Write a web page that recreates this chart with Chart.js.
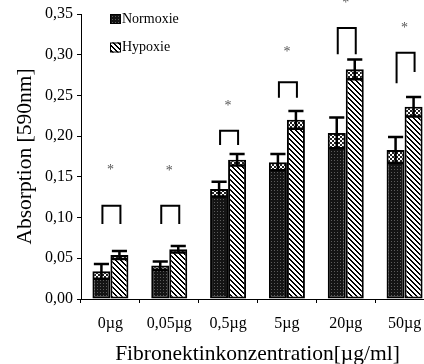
<!DOCTYPE html>
<html>
<head>
<meta charset="utf-8">
<script src="https://cdn.jsdelivr.net/npm/chart.js@4"></script>
<style>
  html, body { margin: 0; padding: 0; background: #fff; overflow: hidden; }
  canvas { display: block; }
</style>
</head>
<body>
<canvas id="chart" width="440" height="364"></canvas>
<script>
const categories = ['0µg', '0,05µg', '0,5µg', '5µg', '20µg', '50µg'];
const normoxie = [0.034, 0.041, 0.135, 0.168, 0.204, 0.183];
const normoxieErr = [0.009, 0.005, 0.009, 0.010, 0.019, 0.016];
const hypoxie = [0.054, 0.061, 0.171, 0.220, 0.282, 0.236];
const hypoxieErr = [0.005, 0.004, 0.007, 0.011, 0.012, 0.012];

// significance brackets: top line, left leg end, right leg end, star height
const bracketTop = [0.1146, 0.1146, 0.2067, 0.2661, 0.3328, 0.3025];
const bracketLeft = [0.0921, 0.0921, 0.1891, 0.2472, 0.3005, 0.2649];
const bracketRight = [0.0921, 0.0921, 0.1891, 0.2472, 0.3005, 0.2788];
const starY = [0.162, 0.160, 0.240, 0.307, 0.367, 0.336];

const yTicks = [0, 0.05, 0.10, 0.15, 0.20, 0.25, 0.30, 0.35];

const serif = '"Liberation Serif", "Times New Roman", serif';

function makePattern(size, draw) {
    const c = document.createElement('canvas');
    c.width = size;
    c.height = size;
    draw(c.getContext('2d'));
    return c.getContext('2d').createPattern(c, 'repeat');
}

// dark fill with a fine grid of lighter dots
const dotFill = makePattern(3, g => {
    g.fillStyle = '#141414';
    g.fillRect(0, 0, 3, 3);
    g.fillStyle = '#5c5c5c';
    g.fillRect(1, 1, 1, 1);
});

// "\" hatching
const hatchFill = makePattern(5, g => {
    g.fillStyle = '#fff';
    g.fillRect(0, 0, 5, 5);
    g.fillStyle = '#000';
    for (let i = 0; i < 5; i++) {
        g.fillRect(i, i, 1, 1);
        g.fillRect((i + 1) % 5, i, 1, 1);
    }
});

// lighter checker where the lower half of the error bar sits inside the bar
const checkFill = makePattern(4, g => {
    g.fillStyle = '#fff';
    g.fillRect(0, 0, 4, 4);
    g.fillStyle = '#222';
    g.fillRect(0, 0, 2, 2);
    g.fillRect(2, 2, 2, 2);
});

const errorBars = {
    id: 'errorBars',
    afterDatasetsDraw(chart) {
        const ctx = chart.ctx;
        const y = chart.scales.y;
        [normoxieErr, hypoxieErr].forEach((errs, di) => {
            const vals = chart.data.datasets[di].data;
            chart.getDatasetMeta(di).data.forEach((bar, i) => {
                const top = y.getPixelForValue(vals[i] + errs[i]);
                const low = y.getPixelForValue(vals[i] - errs[i]);
                const half = bar.width * 0.42;
                ctx.save();
                ctx.fillStyle = checkFill;
                ctx.fillRect(bar.x - bar.width / 2 + 2, bar.y + 2, bar.width - 4, low - bar.y - 2);
                ctx.strokeStyle = '#000';
                ctx.lineWidth = 2.5;
                ctx.beginPath();
                ctx.moveTo(bar.x, top);
                ctx.lineTo(bar.x, low);
                ctx.moveTo(bar.x - half, top);
                ctx.lineTo(bar.x + half, top);
                ctx.moveTo(bar.x - half, low);
                ctx.lineTo(bar.x + half, low);
                ctx.stroke();
                ctx.restore();
            });
        });
    }
};

const significance = {
    id: 'significance',
    afterDraw(chart) {
        const ctx = chart.ctx;
        const x = chart.scales.x;
        const y = chart.scales.y;
        const nBars = chart.getDatasetMeta(0).data;
        const hBars = chart.getDatasetMeta(1).data;
        ctx.save();
        categories.forEach((c, i) => {
            const x1 = nBars[i].x + 1;
            const x2 = hBars[i].x + 1;
            ctx.strokeStyle = '#000';
            ctx.lineWidth = 2;
            ctx.beginPath();
            ctx.moveTo(x1, y.getPixelForValue(bracketLeft[i]));
            ctx.lineTo(x1, y.getPixelForValue(bracketTop[i]));
            ctx.lineTo(x2, y.getPixelForValue(bracketTop[i]));
            ctx.lineTo(x2, y.getPixelForValue(bracketRight[i]));
            ctx.stroke();

            ctx.fillStyle = '#555';
            ctx.font = '14px ' + serif;
            ctx.textAlign = 'center';
            ctx.textBaseline = 'middle';
            ctx.fillText('*', x.getPixelForValue(i), y.getPixelForValue(starY[i]) + 3);
        });
        ctx.restore();
    }
};

const legendBoxes = {
    id: 'legendBoxes',
    afterDraw(chart) {
        const ctx = chart.ctx;
        const area = chart.chartArea;
        const left = area.left + 29;
        ctx.save();
        ctx.font = '14px ' + serif;
        ctx.textBaseline = 'middle';
        ctx.textAlign = 'left';
        chart.data.datasets.forEach((ds, i) => {
            const top = area.top + i * 28.5;
            ctx.fillStyle = ds.backgroundColor;
            ctx.fillRect(left, top, 11, 10);
            ctx.strokeStyle = '#000';
            ctx.lineWidth = 1;
            ctx.strokeRect(left + 0.5, top + 0.5, 10, 9);
            ctx.fillStyle = '#000';
            ctx.fillText(ds.label, left + 12, top + 5);
        });
        ctx.restore();
    }
};

new Chart(document.getElementById('chart'), {
    type: 'bar',
    data: {
        labels: categories,
        datasets: [
            {
                label: 'Normoxie',
                data: normoxie,
                backgroundColor: dotFill,
                borderColor: '#000',
                borderWidth: 2,
                borderSkipped: false
            },
            {
                label: 'Hypoxie',
                data: hypoxie,
                backgroundColor: hatchFill,
                borderColor: '#000',
                borderWidth: 2,
                borderSkipped: false
            }
        ]
    },
    options: {
        responsive: false,
        animation: false,
        categoryPercentage: 0.612,
        barPercentage: 1.0,
        layout: { padding: { top: 14, right: 6, left: 0, bottom: 0 } },
        plugins: {
            legend: { display: false },
            tooltip: { enabled: false }
        },
        scales: {
            x: {
                afterFit(scale) { scale.height = 65; },
                border: { display: true, color: '#000', width: 1 },
                grid: { drawOnChartArea: false, drawTicks: true, tickLength: 4, color: '#000', offset: true },
                ticks: {
                    color: '#000',
                    font: { family: serif, size: 16 },
                    padding: 11,
                    maxRotation: 0,
                    autoSkip: false
                },
                title: {
                    display: true,
                    text: 'Fibronektinkonzentration[µg/ml]',
                    color: '#000',
                    font: { family: serif, size: 21.5, lineHeight: 1 },
                    padding: { top: 0, bottom: -1 }
                }
            },
            y: {
                min: 0,
                max: 0.35,
                afterFit(scale) { scale.width = 81; },
                afterBuildTicks(scale) { scale.ticks = yTicks.map(v => ({ value: v })); },
                border: { display: true, color: '#000', width: 1 },
                grid: { drawOnChartArea: false, drawTicks: true, tickLength: 4, color: '#000' },
                ticks: {
                    color: '#000',
                    font: { family: serif, size: 16 },
                    padding: 4,
                    callback: v => v.toFixed(2).replace('.', ',')
                },
                title: {
                    display: true,
                    text: 'Absorption [590nm]',
                    color: '#000',
                    font: { family: serif, size: 21.5, lineHeight: 1.2 },
                    padding: { top: 12, bottom: 0 }
                }
            }
        }
    },
    plugins: [errorBars, significance, legendBoxes]
});
</script>
</body>
</html>
